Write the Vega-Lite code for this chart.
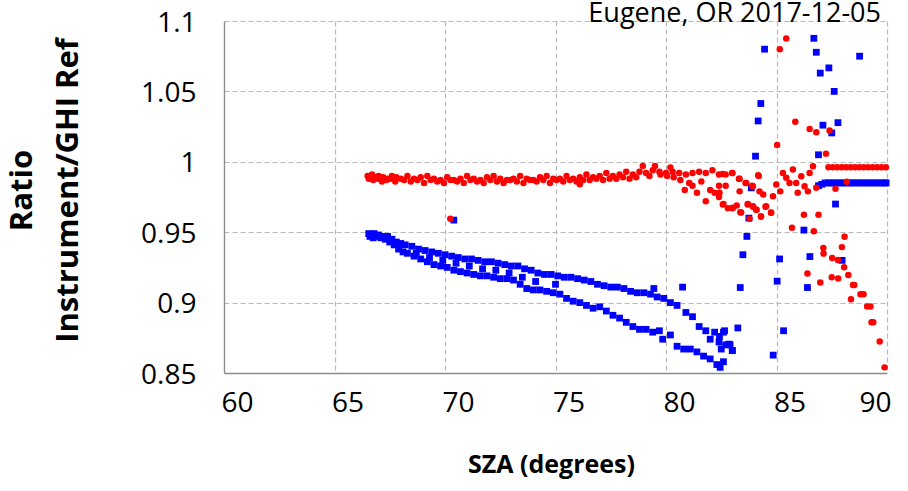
{
  "$schema": "https://vega.github.io/schema/vega-lite/v6.json",
  "autosize": "none",
  "width": 663,
  "height": 352,
  "padding": {"left": 224, "top": 21, "right": 21, "bottom": 118},
  "background": "#ffffff",
  "title": {"text": "Eugene, OR 2017-12-05", "anchor": "end", "font": "Open Sans", "fontSize": 27, "fontWeight": "normal", "color": "#000000", "baseline": "alphabetic", "offset": -40, "dx": -10},
  "config": {"view": {"stroke": null}},
  "datasets": {
    "blue": [
      {"sza":66.55,"ratio":0.949},{"sza":66.65,"ratio":0.948},{"sza":66.8,"ratio":0.949},{"sza":67.0,"ratio":0.948},{"sza":67.2,"ratio":0.947},{"sza":67.4,"ratio":0.947},{"sza":67.6,"ratio":0.945},{"sza":67.8,"ratio":0.943},{"sza":68.0,"ratio":0.942},{"sza":68.2,"ratio":0.941},{"sza":68.5,"ratio":0.94},{"sza":68.8,"ratio":0.938},{"sza":69.1,"ratio":0.937},{"sza":69.4,"ratio":0.936},{"sza":69.7,"ratio":0.935},{"sza":70.0,"ratio":0.934},{"sza":70.3,"ratio":0.933},{"sza":70.6,"ratio":0.932},{"sza":70.9,"ratio":0.931},{"sza":71.2,"ratio":0.931},{"sza":71.5,"ratio":0.93},{"sza":71.8,"ratio":0.929},{"sza":72.1,"ratio":0.929},{"sza":72.4,"ratio":0.928},{"sza":72.7,"ratio":0.927},{"sza":73.0,"ratio":0.926},{"sza":73.3,"ratio":0.926},{"sza":73.6,"ratio":0.924},{"sza":73.9,"ratio":0.923},{"sza":74.2,"ratio":0.921},{"sza":74.5,"ratio":0.92},{"sza":74.8,"ratio":0.92},{"sza":75.1,"ratio":0.919},{"sza":75.4,"ratio":0.918},{"sza":75.7,"ratio":0.918},{"sza":76.0,"ratio":0.917},{"sza":76.3,"ratio":0.916},{"sza":76.6,"ratio":0.915},{"sza":76.9,"ratio":0.913},{"sza":77.2,"ratio":0.912},{"sza":77.5,"ratio":0.911},{"sza":77.8,"ratio":0.911},{"sza":78.1,"ratio":0.91},{"sza":78.4,"ratio":0.908},{"sza":78.7,"ratio":0.907},{"sza":79.0,"ratio":0.907},{"sza":79.3,"ratio":0.906},{"sza":79.45,"ratio":0.91},{"sza":79.6,"ratio":0.904},{"sza":79.9,"ratio":0.903},{"sza":80.2,"ratio":0.9},{"sza":80.5,"ratio":0.898},{"sza":80.75,"ratio":0.911},{"sza":80.9,"ratio":0.893},{"sza":81.2,"ratio":0.89},{"sza":81.5,"ratio":0.883},{"sza":81.8,"ratio":0.88},{"sza":82.0,"ratio":0.874},{"sza":82.2,"ratio":0.879},{"sza":82.4,"ratio":0.872},{"sza":82.6,"ratio":0.879},{"sza":82.7,"ratio":0.87},{"sza":82.9,"ratio":0.87},{"sza":83.0,"ratio":0.866},{"sza":83.25,"ratio":0.882},
      {"sza":68.7,"ratio":0.935},{"sza":69.3,"ratio":0.932},{"sza":69.9,"ratio":0.93},{"sza":70.5,"ratio":0.928},{"sza":71.1,"ratio":0.926},{"sza":71.7,"ratio":0.924},{"sza":72.3,"ratio":0.923},{"sza":72.9,"ratio":0.921},{"sza":73.5,"ratio":0.918},{"sza":74.1,"ratio":0.915},{"sza":75.0,"ratio":0.913},
      {"sza":66.6,"ratio":0.947},{"sza":66.75,"ratio":0.946},{"sza":66.9,"ratio":0.947},{"sza":67.1,"ratio":0.946},{"sza":67.3,"ratio":0.945},{"sza":67.5,"ratio":0.943},{"sza":67.7,"ratio":0.941},{"sza":67.9,"ratio":0.938},{"sza":68.1,"ratio":0.936},{"sza":68.3,"ratio":0.935},{"sza":68.6,"ratio":0.933},{"sza":68.9,"ratio":0.931},{"sza":69.2,"ratio":0.929},{"sza":69.5,"ratio":0.927},{"sza":69.8,"ratio":0.926},{"sza":70.1,"ratio":0.925},{"sza":70.4,"ratio":0.923},{"sza":70.7,"ratio":0.922},{"sza":71.0,"ratio":0.921},{"sza":71.3,"ratio":0.92},{"sza":71.6,"ratio":0.919},{"sza":71.9,"ratio":0.919},{"sza":72.2,"ratio":0.918},{"sza":72.5,"ratio":0.917},{"sza":72.8,"ratio":0.917},{"sza":73.1,"ratio":0.916},{"sza":73.4,"ratio":0.913},{"sza":73.7,"ratio":0.91},{"sza":74.0,"ratio":0.909},{"sza":74.3,"ratio":0.909},{"sza":74.6,"ratio":0.908},{"sza":74.9,"ratio":0.907},{"sza":75.2,"ratio":0.906},{"sza":75.5,"ratio":0.903},{"sza":75.8,"ratio":0.901},{"sza":76.1,"ratio":0.9},{"sza":76.4,"ratio":0.898},{"sza":76.7,"ratio":0.896},{"sza":77.0,"ratio":0.897},{"sza":77.3,"ratio":0.894},{"sza":77.6,"ratio":0.891},{"sza":77.9,"ratio":0.889},{"sza":78.2,"ratio":0.886},{"sza":78.5,"ratio":0.883},{"sza":78.8,"ratio":0.881},{"sza":79.1,"ratio":0.881},{"sza":79.4,"ratio":0.879},{"sza":79.7,"ratio":0.88},{"sza":79.85,"ratio":0.874},{"sza":80.2,"ratio":0.877},{"sza":80.5,"ratio":0.869},{"sza":80.8,"ratio":0.867},{"sza":81.1,"ratio":0.867},{"sza":81.4,"ratio":0.865},{"sza":81.7,"ratio":0.862},{"sza":82.0,"ratio":0.86},{"sza":82.3,"ratio":0.856},{"sza":82.45,"ratio":0.854},{"sza":82.6,"ratio":0.858},{"sza":82.85,"ratio":0.8705},{"sza":83.0,"ratio":0.866},{"sza":82.5,"ratio":0.867},{"sza":82.65,"ratio":0.88},{"sza":82.42,"ratio":0.876},
      {"sza":84.46,"ratio":1.08},{"sza":86.69,"ratio":1.0877},{"sza":86.8,"ratio":1.0778},{"sza":88.76,"ratio":1.075},{"sza":86.98,"ratio":1.063},{"sza":87.37,"ratio":1.0667},{"sza":87.61,"ratio":1.05},{"sza":84.29,"ratio":1.0414},{"sza":84.17,"ratio":1.029},{"sza":87.1,"ratio":1.026},{"sza":87.78,"ratio":1.0278},{"sza":87.5,"ratio":1.0205},{"sza":84.05,"ratio":1.004},{"sza":86.9,"ratio":1.005},{"sza":83.86,"ratio":0.9815},{"sza":87.67,"ratio":0.97},{"sza":83.75,"ratio":0.96},{"sza":86.24,"ratio":0.9515},{"sza":83.66,"ratio":0.947},{"sza":83.48,"ratio":0.934},{"sza":85.14,"ratio":0.931},{"sza":86.51,"ratio":0.9327},{"sza":87.97,"ratio":0.93},{"sza":83.36,"ratio":0.9107},{"sza":85.03,"ratio":0.9152},{"sza":86.4,"ratio":0.9107},{"sza":85.32,"ratio":0.88},{"sza":84.85,"ratio":0.8627},{"sza":86.9,"ratio":0.983},{"sza":87.05,"ratio":0.984},{"sza":70.4,"ratio":0.9586},
      {"sza":87.2,"ratio":0.985},{"sza":87.35,"ratio":0.985},{"sza":87.5,"ratio":0.985},{"sza":87.65,"ratio":0.985},{"sza":87.8,"ratio":0.985},{"sza":87.95,"ratio":0.985},{"sza":88.1,"ratio":0.985},{"sza":88.25,"ratio":0.985},{"sza":88.4,"ratio":0.985},{"sza":88.55,"ratio":0.985},{"sza":88.7,"ratio":0.985},{"sza":88.85,"ratio":0.985},{"sza":89.0,"ratio":0.985},{"sza":89.15,"ratio":0.985},{"sza":89.3,"ratio":0.985},{"sza":89.45,"ratio":0.985},{"sza":89.6,"ratio":0.985},{"sza":89.75,"ratio":0.985},{"sza":89.9,"ratio":0.985},{"sza":89.96,"ratio":0.985}
    ],
    "red": [
      {"sza":66.5,"ratio":0.99},{"sza":66.6,"ratio":0.989},{"sza":66.7,"ratio":0.991},{"sza":66.85,"ratio":0.989},{"sza":67.0,"ratio":0.99},{"sza":67.2,"ratio":0.989},{"sza":67.4,"ratio":0.988},{"sza":67.6,"ratio":0.99},{"sza":67.8,"ratio":0.989},{"sza":68.0,"ratio":0.988},{"sza":68.3,"ratio":0.99},{"sza":68.6,"ratio":0.988},{"sza":68.9,"ratio":0.989},{"sza":69.2,"ratio":0.99},{"sza":69.5,"ratio":0.988},{"sza":69.8,"ratio":0.987},{"sza":70.1,"ratio":0.989},{"sza":70.4,"ratio":0.987},{"sza":70.7,"ratio":0.988},{"sza":71.0,"ratio":0.99},{"sza":71.3,"ratio":0.988},{"sza":71.6,"ratio":0.987},{"sza":71.9,"ratio":0.989},{"sza":72.2,"ratio":0.99},{"sza":72.5,"ratio":0.988},{"sza":72.8,"ratio":0.987},{"sza":73.1,"ratio":0.988},{"sza":73.4,"ratio":0.99},{"sza":73.7,"ratio":0.988},{"sza":74.0,"ratio":0.987},{"sza":74.3,"ratio":0.989},{"sza":74.6,"ratio":0.99},{"sza":74.9,"ratio":0.988},{"sza":75.2,"ratio":0.988},{"sza":75.5,"ratio":0.99},{"sza":75.8,"ratio":0.988},{"sza":76.1,"ratio":0.989},{"sza":76.4,"ratio":0.991},{"sza":76.7,"ratio":0.989},{"sza":77.0,"ratio":0.99},{"sza":77.3,"ratio":0.992},{"sza":77.6,"ratio":0.99},{"sza":77.9,"ratio":0.991},{"sza":78.2,"ratio":0.993},{"sza":78.5,"ratio":0.991},{"sza":78.8,"ratio":0.993},{"sza":79.1,"ratio":0.992},{"sza":79.4,"ratio":0.994},{"sza":79.7,"ratio":0.993},{"sza":80.0,"ratio":0.992},{"sza":80.3,"ratio":0.993},{"sza":80.6,"ratio":0.992},{"sza":80.9,"ratio":0.991},{"sza":81.2,"ratio":0.992},{"sza":81.5,"ratio":0.993},{"sza":81.8,"ratio":0.992},{"sza":82.1,"ratio":0.994},{"sza":82.4,"ratio":0.991},{"sza":82.7,"ratio":0.991},{"sza":83.0,"ratio":0.992},{"sza":83.3,"ratio":0.988},{"sza":83.6,"ratio":0.985},{"sza":83.9,"ratio":0.983},{"sza":84.2,"ratio":0.99},
      {"sza":66.55,"ratio":0.988},{"sza":66.75,"ratio":0.987},{"sza":66.95,"ratio":0.988},{"sza":67.15,"ratio":0.986},{"sza":67.35,"ratio":0.987},{"sza":67.55,"ratio":0.988},{"sza":67.75,"ratio":0.986},{"sza":68.15,"ratio":0.987},{"sza":68.45,"ratio":0.986},{"sza":68.75,"ratio":0.987},{"sza":69.05,"ratio":0.985},{"sza":69.35,"ratio":0.987},{"sza":69.65,"ratio":0.986},{"sza":69.95,"ratio":0.985},{"sza":70.25,"ratio":0.987},{"sza":70.55,"ratio":0.986},{"sza":70.85,"ratio":0.985},{"sza":71.15,"ratio":0.987},{"sza":71.45,"ratio":0.986},{"sza":71.75,"ratio":0.985},{"sza":72.05,"ratio":0.987},{"sza":72.35,"ratio":0.986},{"sza":72.65,"ratio":0.985},{"sza":72.95,"ratio":0.987},{"sza":73.25,"ratio":0.986},{"sza":73.55,"ratio":0.985},{"sza":73.85,"ratio":0.987},{"sza":74.15,"ratio":0.986},{"sza":74.45,"ratio":0.987},{"sza":74.75,"ratio":0.985},{"sza":75.05,"ratio":0.987},{"sza":75.35,"ratio":0.986},{"sza":75.65,"ratio":0.987},{"sza":75.95,"ratio":0.986},{"sza":76.1,"ratio":0.984},{"sza":76.25,"ratio":0.987},{"sza":76.55,"ratio":0.987},{"sza":76.85,"ratio":0.988},{"sza":77.15,"ratio":0.987},{"sza":77.45,"ratio":0.988},{"sza":77.75,"ratio":0.988},{"sza":78.05,"ratio":0.989},{"sza":78.35,"ratio":0.988},{"sza":78.65,"ratio":0.989},{"sza":78.95,"ratio":0.997},{"sza":79.25,"ratio":0.99},{"sza":79.5,"ratio":0.997},{"sza":79.75,"ratio":0.991},{"sza":80.05,"ratio":0.99},{"sza":80.2,"ratio":0.996},{"sza":80.35,"ratio":0.989},{"sza":80.65,"ratio":0.987},{"sza":80.85,"ratio":0.98},{"sza":81.05,"ratio":0.985},{"sza":81.2,"ratio":0.983},{"sza":81.4,"ratio":0.978},{"sza":81.6,"ratio":0.986},{"sza":81.8,"ratio":0.972},{"sza":82.0,"ratio":0.98},{"sza":82.2,"ratio":0.978},{"sza":82.4,"ratio":0.975},{"sza":82.6,"ratio":0.97},{"sza":82.8,"ratio":0.967},{"sza":83.0,"ratio":0.967},{"sza":83.2,"ratio":0.969},{"sza":83.4,"ratio":0.964},{"sza":83.7,"ratio":0.97},{"sza":83.95,"ratio":0.968},{"sza":84.1,"ratio":0.966},{"sza":84.3,"ratio":0.961},{"sza":84.5,"ratio":0.968},{"sza":84.75,"ratio":0.964},
      {"sza":82.57,"ratio":0.9914},{"sza":83.0,"ratio":0.992},{"sza":83.33,"ratio":0.988},{"sza":83.63,"ratio":0.985},{"sza":83.93,"ratio":0.9827},{"sza":84.17,"ratio":0.9904},{"sza":82.4,"ratio":0.983},{"sza":82.7,"ratio":0.983},{"sza":83.33,"ratio":0.979},{"sza":84.23,"ratio":0.979},{"sza":84.4,"ratio":0.9768},{"sza":84.84,"ratio":0.9756},{"sza":84.99,"ratio":0.9839},{"sza":85.17,"ratio":0.979},{"sza":85.29,"ratio":0.992},{"sza":85.44,"ratio":0.9886},{"sza":85.74,"ratio":0.9945},{"sza":85.59,"ratio":0.985},{"sza":85.89,"ratio":0.985},{"sza":86.12,"ratio":0.9897},{"sza":86.27,"ratio":0.9827},{"sza":85.96,"ratio":0.978},{"sza":86.42,"ratio":0.979},{"sza":82.57,"ratio":0.9697},{"sza":83.02,"ratio":0.9674},{"sza":83.36,"ratio":0.9642},{"sza":83.7,"ratio":0.9697},{"sza":83.93,"ratio":0.9685},{"sza":84.08,"ratio":0.966},{"sza":84.3,"ratio":0.9614},{"sza":83.78,"ratio":0.9596},{"sza":84.53,"ratio":0.9685},{"sza":84.76,"ratio":0.9638},{"sza":82.42,"ratio":0.978},{"sza":70.24,"ratio":0.9596},
      {"sza":85.15,"ratio":1.08},{"sza":85.44,"ratio":1.0875},{"sza":85.85,"ratio":1.0285},{"sza":86.5,"ratio":1.0233},{"sza":86.8,"ratio":1.021},{"sza":87.4,"ratio":1.0223},{"sza":85.03,"ratio":1.012},{"sza":87.24,"ratio":1.0058},{"sza":86.65,"ratio":0.9968},{"sza":86.5,"ratio":0.992},{"sza":88.18,"ratio":0.9858},{"sza":87.67,"ratio":0.9808},{"sza":86.8,"ratio":0.9815},{"sza":86.24,"ratio":0.9624},{"sza":86.9,"ratio":0.9624},{"sza":85.7,"ratio":0.9532},{"sza":86.69,"ratio":0.9506},{"sza":88.08,"ratio":0.9468},{"sza":87.96,"ratio":0.9394},{"sza":87.12,"ratio":0.9387},{"sza":87.13,"ratio":0.9348},{"sza":87.52,"ratio":0.9317},{"sza":87.78,"ratio":0.9303},{"sza":88.06,"ratio":0.9251},{"sza":86.4,"ratio":0.9206},{"sza":87.5,"ratio":0.918},{"sza":87.79,"ratio":0.9171},{"sza":86.98,"ratio":0.9142},{"sza":88.25,"ratio":0.9196},{"sza":88.46,"ratio":0.9125},{"sza":88.52,"ratio":0.9125},{"sza":88.8,"ratio":0.906},{"sza":88.94,"ratio":0.906},{"sza":88.37,"ratio":0.9024},{"sza":89.1,"ratio":0.8972},{"sza":89.25,"ratio":0.8972},{"sza":89.3,"ratio":0.8861},{"sza":89.38,"ratio":0.8861},{"sza":89.67,"ratio":0.8724},{"sza":89.89,"ratio":0.854},
      {"sza":87.35,"ratio":0.9961},{"sza":87.55,"ratio":0.9961},{"sza":87.75,"ratio":0.9961},{"sza":87.95,"ratio":0.9961},{"sza":88.15,"ratio":0.9961},{"sza":88.35,"ratio":0.9961},{"sza":88.55,"ratio":0.9961},{"sza":88.75,"ratio":0.9961},{"sza":88.95,"ratio":0.9961},{"sza":89.15,"ratio":0.9961},{"sza":89.35,"ratio":0.9961},{"sza":89.55,"ratio":0.9961},{"sza":89.75,"ratio":0.9961},{"sza":89.95,"ratio":0.9961}
    ]
  },
  "encoding": {
    "x": {"field": "sza", "type": "quantitative",
      "scale": {"domain": [60, 90], "nice": false, "zero": false},
      "axis": {"title": "SZA (degrees)", "values": [60, 65, 70, 75, 80, 85, 90], "labelFlush": false, "labelOverlap": false,
        "labelFont": "Open Sans", "labelFontSize": 28, "labelColor": "#000000", "labelPadding": 16,
        "labelOffset": {"condition": {"test": "datum.value == 90", "value": -12}, "value": 13},
        "ticks": false, "domainColor": "#8c8c8c", "domainWidth": 1.3,
        "grid": true, "gridColor": "#b8b8b8", "gridDash": [5, 3], "gridWidth": 1.2,
        "titleFont": "Open Sans", "titleFontSize": 25, "titleFontWeight": "bold", "titleColor": "#000000",
        "titleX": 327, "titleY": 99, "titleBaseline": "alphabetic", "titleAlign": "center"}},
    "y": {"field": "ratio", "type": "quantitative",
      "scale": {"domain": [0.85, 1.1], "nice": false, "zero": false},
      "axis": {"title": ["Ratio", "Instrument/GHI Ref"], "values": [0.85, 0.9, 0.95, 1, 1.05, 1.1], "format": "~g", "labelFlush": false, "labelOverlap": false,
        "labelFont": "Open Sans", "labelFontSize": 28, "labelColor": "#000000", "labelPadding": 28, "labelOffset": 2,
        "ticks": false, "domainColor": "#8c8c8c", "domainWidth": 1.3,
        "grid": true, "gridColor": "#b8b8b8", "gridDash": [5, 3], "gridWidth": 1.2,
        "titleFont": "Open Sans", "titleFontSize": 31, "titleFontWeight": "bold", "titleColor": "#000000",
        "titleLineHeight": 46, "titleAngle": -90, "titleAlign": "center", "titleBaseline": "bottom",
        "titleX": -186, "titleY": 169}}
  },
  "layer": [
    {"data": {"name": "blue"}, "mark": {"type": "point", "shape": "square", "filled": true, "size": 46, "color": "#0000ff", "opacity": 1}},
    {"data": {"name": "red"}, "mark": {"type": "circle", "size": 42, "color": "#ff0000", "opacity": 1}}
  ]
}
